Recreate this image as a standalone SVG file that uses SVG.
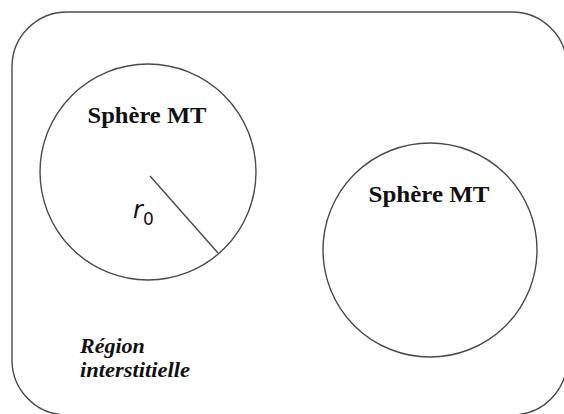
<svg xmlns="http://www.w3.org/2000/svg" width="564" height="414" viewBox="0 0 564 414">
<style>
.ln{fill:none;stroke:#4a4a4a;stroke-width:1.4}
.t{font-family:"Liberation Serif",serif;font-weight:bold;fill:#111}
</style>
<rect width="564" height="414" fill="#fff"/>
<g id="region">
<rect class="ln" x="12" y="12" width="555" height="403" rx="55" ry="55"/>
<text class="t" x="80" y="353" font-size="22" font-style="italic">Région</text>
<text class="t" x="80" y="377" font-size="22" font-style="italic" textLength="110" lengthAdjust="spacingAndGlyphs">interstitielle</text>
</g>
<g id="sphere1">
<circle class="ln" cx="148" cy="172" r="108"/>
<text class="t" x="147" y="123" font-size="24" text-anchor="middle" textLength="119" lengthAdjust="spacingAndGlyphs">Sphère MT</text>
</g>
<g id="connectors">
<line class="ln" x1="150" y1="176" x2="218" y2="253"/>
</g>
<text x="133" y="218" font-family="'DejaVu Sans',sans-serif" font-size="24" font-style="italic" fill="#111">r<tspan font-size="17" font-style="normal" dx="0" dy="7">0</tspan></text>
<g id="sphere2">
<circle class="ln" cx="430" cy="250" r="107"/>
<text class="t" x="429" y="202" font-size="24" text-anchor="middle" textLength="121" lengthAdjust="spacingAndGlyphs">Sphère MT</text>
</g>
</svg>
